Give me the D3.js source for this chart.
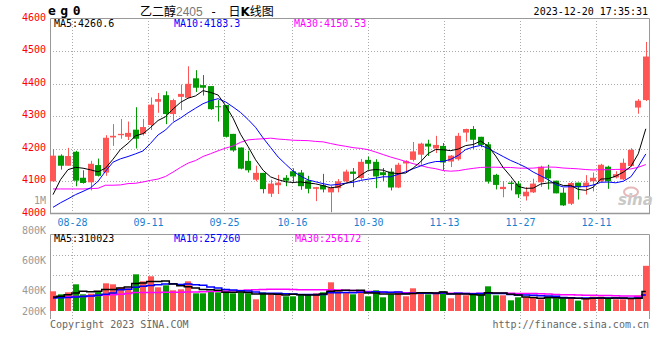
<!DOCTYPE html>
<html><head><meta charset="utf-8">
<script src="https://cdn.jsdelivr.net/npm/d3@7/dist/d3.min.js"></script>
<style>body{margin:0;background:#fff}svg{display:block}</style>
</head><body><svg id="c" width="660" height="360"></svg>
<script>
const dates = ["08-23","08-24","08-25","08-28","08-29","08-30","08-31","09-01","09-04","09-05",
"09-06","09-07","09-08","09-11","09-12","09-13","09-14","09-15","09-18","09-19",
"09-20","09-21","09-22","09-25","09-26","09-27","09-28","10-09","10-10","10-11",
"10-12","10-13","10-16","10-17","10-18","10-19","10-20","10-23","10-24","10-25",
"10-26","10-27","10-30","10-31","11-01","11-02","11-03","11-06","11-07","11-08",
"11-09","11-10","11-13","11-14","11-15","11-16","11-17","11-20","11-21","11-22",
"11-23","11-24","11-27","11-28","11-29","11-30","12-01","12-04","12-05","12-06",
"12-07","12-08","12-11","12-12","12-13","12-14","12-15","12-18","12-19","12-20"];
const open = [4099,4178,4147,4190,4110,4096,4149,4126,4234,4241,4236,4258,4245,4272,4344,4364,4306,4359,4356,4416,
4395,4392,4330,4334,4245,4203,4162,4104,4125,4061,4087,4110,4130,4126,4102,4076,4087,4065,4078,4099,
4129,4109,4165,4159,4127,4129,4080,4154,4165,4181,4215,4200,4208,4160,4167,4249,4260,4236,4213,4119,
4075,4095,4092,4053,4065,4096,4135,4101,4064,4030,4095,4084,4099,4099,4144,4111,4105,4146,4326,4349];
const high = [4198,4182,4202,4193,4133,4162,4169,4241,4275,4291,4283,4327,4291,4357,4371,4376,4353,4397,4453,4441,
4426,4392,4349,4334,4245,4203,4193,4147,4125,4104,4119,4118,4139,4134,4116,4082,4122,4085,4106,4135,
4140,4168,4175,4167,4140,4139,4156,4164,4220,4218,4227,4239,4217,4180,4248,4261,4269,4236,4220,4122,
4100,4101,4100,4081,4107,4147,4150,4101,4079,4097,4095,4118,4126,4153,4147,4130,4169,4201,4352,4528];
const low = [4097,4135,4147,4084,4092,4071,4114,4116,4208,4230,4226,4200,4240,4257,4310,4275,4285,4318,4356,4374,
4363,4319,4283,4234,4190,4136,4126,4099,4062,4051,4060,4084,4096,4073,4062,4038,4065,4004,4065,4097,
4081,4104,4135,4078,4100,4071,4078,4125,4160,4150,4177,4186,4132,4143,4163,4221,4199,4204,4092,4074,
4050,4071,4048,4040,4063,4082,4074,4062,4023,4026,4043,4058,4068,4096,4076,4108,4103,4144,4307,4346];
const close = [4178,4147,4177,4101,4094,4153,4116,4233,4239,4245,4248,4230,4266,4335,4352,4306,4349,4368,4399,4387,
4387,4321,4329,4236,4194,4138,4133,4125,4075,4092,4095,4101,4114,4084,4076,4081,4074,4080,4099,4129,
4122,4159,4153,4114,4118,4080,4150,4161,4191,4215,4206,4211,4157,4178,4239,4260,4227,4211,4098,4088,
4082,4091,4059,4067,4092,4144,4108,4062,4025,4094,4081,4095,4110,4150,4099,4121,4156,4196,4347,4483];
const ma5 = [4058,4104,4135,4142,4139.4,4134.4,4128.2,4139.4,4167.0,4197.2,4216.2,4239.0,4245.6,4264.8,4286.2,4297.8,4321.6,4342.0,4354.8,4361.8,
4378.0,4372.4,4364.6,4332.0,4293.4,4243.6,4206.0,4165.2,4133.0,4112.6,4104.0,4097.6,4095.4,4097.2,4094.0,4091.2,4085.8,4079.0,4082.0,4092.6,
4100.8,4117.8,4132.4,4135.4,4133.2,4124.8,4123.0,4124.6,4140.0,4159.4,4184.6,4196.8,4196.0,4193.4,4198.2,4209.0,4212.2,4223.0,4207.0,4176.8,
4141.2,4114.0,4083.6,4077.4,4078.2,4090.6,4094.0,4094.6,4086.2,4086.6,4074.0,4071.4,4081.0,4106.0,4107.0,4115.0,4127.2,4144.4,4183.8,4260.6];
const ma10 = [4019,4033,4045,4058,4068,4079,4099,4130,4158,4168.3,4175.3,4183.6,4192.5,4215.9,4241.7,4257.0,4280.3,4293.8,4309.8,4324.0,
4337.9,4347.0,4353.3,4343.4,4327.6,4310.8,4289.2,4264.9,4232.5,4203.0,4173.8,4151.8,4130.3,4115.1,4103.3,4097.6,4091.7,4087.2,4089.6,4093.3,
4096.0,4101.8,4105.7,4108.7,4112.9,4112.8,4120.4,4128.5,4137.7,4146.3,4154.7,4159.9,4160.3,4166.7,4178.8,4196.8,4204.5,4209.5,4200.2,4187.5,
4175.1,4163.1,4153.3,4142.2,4127.5,4115.9,4104.0,4089.1,4081.8,4082.4,4082.3,4082.7,4087.8,4096.1,4096.8,4094.5,4099.3,4112.7,4144.9,4183.3];
const ma30 = [4075.5,4075.5,4075.5,4075.5,4075.5,4076.5,4077.6,4087,4087,4088,4092,4093,4097,4102,4106,4114,4127.5,4142,4155,4163,
4175.5,4184,4193,4201,4208,4219,4226.5,4228.6,4230,4231.8,4229.0,4227.5,4225.4,4224.8,4224.2,4221.8,4220.4,4215.3,4210.6,4206.8,
4202.6,4200.2,4196.4,4189.1,4181.3,4173.7,4167.1,4160.2,4153.3,4147.5,4141.5,4137.8,4132.1,4130.2,4131.7,4135.7,4138.9,4141.7,4142.5,4142.4,
4141.9,4141.6,4139.8,4139.2,4139.7,4141.8,4143.0,4142.4,4139.9,4138.7,4137.4,4135.2,4133.8,4135.0,4134.4,4135.7,4135.9,4137.1,4142.3,4150.53];
const volume = [315000,267000,299000,427000,267000,277000,315000,443000,427000,379000,363000,587000,475000,555000,379000,411000,331000,347000,475000,283000,
283000,315000,299000,315000,283000,299000,283000,187000,299000,283000,283000,235000,235000,267000,267000,283000,299000,459000,315000,299000,
267000,315000,235000,331000,219000,267000,315000,235000,363000,283000,267000,299000,315000,203000,283000,251000,267000,267000,395000,251000,
251000,171000,219000,219000,219000,187000,235000,203000,203000,219000,166000,198000,230000,230000,198000,187000,187000,203000,251000,723000];
const volMa5 = [224,235,261,288,315,307.4,317,345.8,345.8,368.2,385.4,439.8,446.2,471.8,471.8,481.4,430.2,404.6,388.6,369.4,
343.8,340.6,331,299,299,302.2,295.8,273.4,270.2,270.2,267,257.4,267,260.6,257.4,257.4,270.2,315,324.6,331,
327.8,331,286.2,289.4,273.4,273.4,273.4,273.4,279.8,292.6,292.6,289.4,305.4,273.4,273.4,270.2,263.8,254.2,292.6,286.2,
286.2,267,257.4,222.2,215.8,203,215.8,212.6,209.4,209.4,205.2,197.8,203.2,208.6,204.4,208.6,206.4,201,205.2,310.023];
const volMa10 = [208,211,216,224,232,240,252,268,290,341.6,346.4,378.4,396,408.8,420,433.4,435,425.4,430.2,420.6,
412.6,385.4,367.8,343.8,334.2,323,318.2,302.2,284.6,284.6,284.6,276.6,270.2,265.4,263.8,262.2,263.8,291,292.6,294.2,
292.6,300.6,300.6,307,302.2,300.6,302.2,279.8,284.6,283,283,281.4,289.4,276.6,283,281.4,276.6,279.8,283,279.8,
278.2,265.4,255.8,257.4,251,244.6,241.4,235,215.8,212.6,204.1,206.8,207.9,209,206.9,206.9,202.1,202.1,206.9,257.26];
const volMa30 = [228,229,230,232,234,240,250,257,262,268,282,296,296,297,298,299,300,301,303,305,
308,312,316,320,325,330,336,342,346,348.9,347.9,346.8,344.7,339.3,339.3,339.5,339,339.5,335.8,333.1,
329.9,320.9,312.9,305.4,300.1,295.3,294.7,291,287.3,287.3,286.7,286.2,286.7,283,283,281.4,280.9,283.5,286.7,285.7,
284.6,282.5,281.9,280.3,278.7,275.5,273.4,264.9,261.1,258.5,255.1,251.2,251,247.7,247,244.3,240,239,235.2,256.172];
const priceGrid = [4100,4200,4300,4400,4500];
const priceLabels = [4000,4100,4200,4300,4400,4500,4600];
const dateTicks = ["08-28","09-11","09-25","10-16","10-30","11-13","11-27","12-11"];
const volLabels = ["800K","600K","400K","200K"];
const maLabels = [["MA5:4260.6","#000"],["MA10:4183.3","#0000ff"],["MA30:4150.53","#ff00ff"]];
const volMaLabels = [["MA5:310023","#000"],["MA10:257260","#0000ff"],["MA30:256172","#ff00ff"]];

const RED="#ff5555", GREEN="#009900", GRID="#aaa", BORDER="#999";
const MONO="'DejaVu Sans Mono', monospace";
const svg = d3.select("#c");
const n = dates.length;
const L=50, R=649, T=18, B=213, VT=234, VB=319;
const x = d3.scaleLinear().domain([0,n-1]).range([53,645.8]);
const gx = d3.scaleLinear().domain([0,n-1]).range([49.2,649.2]);
const y = d3.scaleLinear().domain([4000,4600]).range([213.5,18.5]);
const yv = d3.scaleLinear().domain([0,1224000]).range([311,234.5]);
const yvLab = d3.scaleOrdinal().domain(volLabels).range([233.5,263.5,294,314.5]);

// grids
const grid = svg.append("g").attr("stroke",GRID).attr("stroke-dasharray","1,2").attr("fill","none");
grid.selectAll("line.h").data(priceGrid).join("line")
  .attr("x1",L).attr("x2",R).attr("y1",d=>Math.round(y(d))+0.5).attr("y2",d=>Math.round(y(d))+0.5);
grid.selectAll("line.v").data(dateTicks).join("line")
  .attr("x1",d=>Math.round(gx(dates.indexOf(d)))+0.5).attr("x2",d=>Math.round(gx(dates.indexOf(d)))+0.5)
  .attr("y1",T).attr("y2",B);
grid.selectAll("line.vv").data(dateTicks).join("line")
  .attr("x1",d=>Math.round(gx(dates.indexOf(d)))+0.5).attr("x2",d=>Math.round(gx(dates.indexOf(d)))+0.5)
  .attr("y1",VT).attr("y2",VB+2);
grid.selectAll("line.hv").data([0.25,0.485]).join("line")
  .attr("x1",L).attr("x2",R).attr("y1",f=>Math.round(VT+(VB-VT)*f)+0.5).attr("y2",f=>Math.round(VT+(VB-VT)*f)+0.5);

// borders
const bd = svg.append("g").attr("stroke",BORDER).attr("fill","none");
bd.append("path").attr("d",`M${L+0.5},${B}V${T+0.5}H${R+0.5}V${B}`);
bd.append("line").attr("x1",L).attr("x2",R+1).attr("y1",B+0.5).attr("y2",B+0.5).attr("stroke-width",1.5);
bd.append("path").attr("d",`M${L+0.5},${VB}V${VT+0.5}H${R+0.5}V${VB}`);

// candles
const cg = svg.append("g");
const col = i => close[i]>=open[i] ? RED : GREEN;
cg.selectAll("rect.w").data(d3.range(n)).join("rect")
  .attr("x",i=>Math.round(x(i))).attr("width",1)
  .attr("y",i=>y(high[i])).attr("height",i=>Math.max(1,y(low[i])-y(high[i])))
  .attr("fill",col);
cg.selectAll("rect.b").data(d3.range(n)).join("rect")
  .attr("x",i=>Math.round(x(i))-3).attr("width",6)
  .attr("y",i=>y(Math.max(open[i],close[i])))
  .attr("height",i=>Math.max(1,Math.abs(y(open[i])-y(close[i]))))
  .attr("fill",col);

// MA lines
const line = d3.line().x((d,i)=>x(i)).y(d=>y(d));
[[ma30,"#ff00ff"],[ma10,"#0000ff"],[ma5,"#000"]].forEach(([s,c])=>{
  svg.append("path").datum(s).attr("d",line).attr("fill","none").attr("stroke",c).attr("stroke-width",1);
});

// volume bars
svg.append("g").selectAll("rect").data(d3.range(n)).join("rect")
  .attr("x",i=>Math.round(x(i))-3).attr("width",6)
  .attr("y",i=>yv(volume[i])).attr("height",i=>yv(0)-yv(volume[i]))
  .attr("fill",col);
const vline = d3.line().x((d,i)=>x(i)).y(d=>yv(d*1000)).curve(d3.curveStep);
[[volMa30,"#ff00ff"],[volMa10,"#0000ff"],[volMa5,"#000"]].forEach(([s,c])=>{
  svg.append("path").datum(s).attr("d",vline).attr("fill","none").attr("stroke",c).attr("stroke-width",1.5);
});

// texts
const txt = (s,xx,yy,opt={}) => svg.append("text").attr("x",xx).attr("y",yy).text(s)
  .attr("font-family",opt.font||MONO).attr("font-size",opt.size||10).attr("fill",opt.fill||"#000")
  .attr("text-anchor",opt.anchor||"start").attr("font-weight",opt.weight||"normal");
priceLabels.forEach(p=>txt(String(p),46,y(p)+2,{fill:"#ff0000",anchor:"end"}));
txt("1M",46,204,{fill:"#999",anchor:"end"});
volLabels.forEach(v=>txt(v,46,yvLab(v),{fill:"#999",anchor:"end"}));
svg.append("g").selectAll("text").data(dateTicks).join("text")
  .attr("x",d=>Math.round(gx(dates.indexOf(d)))+0.5).attr("y",226).attr("text-anchor","middle").text(d=>d)
  .attr("font-family",MONO).attr("font-size",10).attr("fill","#1a7fd0");
maLabels.forEach(([s,c],k)=>txt(s,[54,174,294][k],27,{fill:c}));
volMaLabels.forEach(([s,c],k)=>txt(s,[54,174,295][k],242,{fill:c}));
txt("eg0",48,15,{size:13,weight:"bold"}).attr("letter-spacing",4.5);
const t = svg.append("text").attr("x",140).attr("y",16).attr("font-size",12).attr("font-family","'Noto Sans CJK SC', sans-serif").attr("fill","#000");
t.append("tspan").text("乙二醇");
t.append("tspan").text("2405").attr("fill","#777").attr("font-family","'Liberation Sans', sans-serif");
t.append("tspan").text(" - ").attr("font-family",MONO);
t.append("tspan").text("日").attr("dx",4);
t.append("tspan").text("K").attr("font-weight","bold").attr("font-family","'DejaVu Sans', sans-serif");
t.append("tspan").text("线图");
txt("2023-12-20 17:35:31",648,15,{anchor:"end"});
txt("Copyright 2023 SINA.COM",50,328,{fill:"#666"});
txt("http://finance.sina.com.cn",649,328,{fill:"#666",anchor:"end"});
// watermark
svg.append("ellipse").attr("cx",631).attr("cy",192).attr("rx",7).attr("ry",4.5).attr("fill","none").attr("stroke","#e6b8b8").attr("stroke-width",2);
txt("sina",618,205,{font:"'DejaVu Sans', sans-serif",size:15,weight:"bold",fill:"#c8c8c8"}).attr("font-style","italic");
</script></body></html>
